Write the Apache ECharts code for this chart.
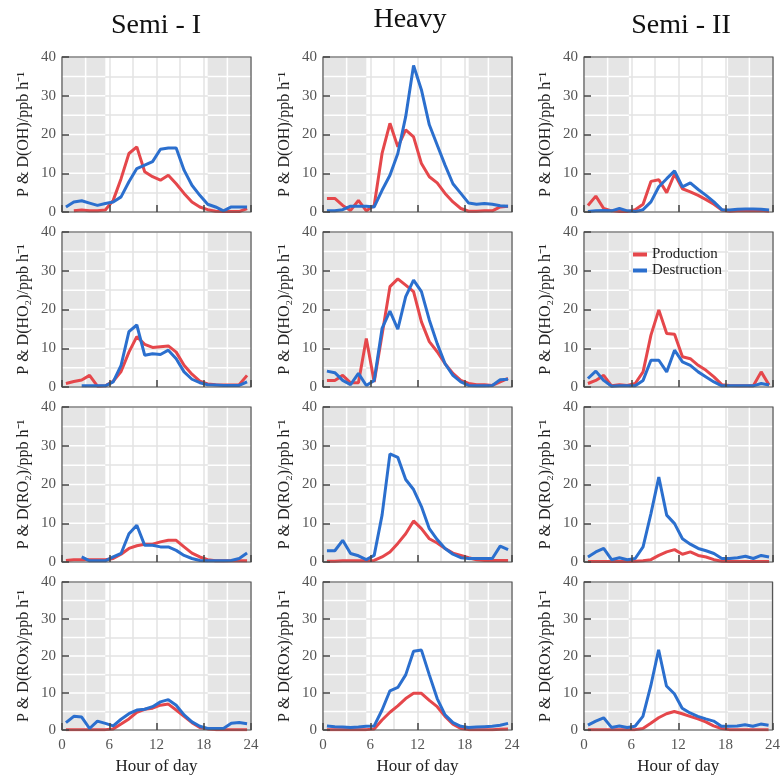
<!DOCTYPE html>
<html><head><meta charset="utf-8">
<script src="https://cdn.jsdelivr.net/npm/echarts@6/dist/echarts.min.js"></script>
<style>html,body{margin:0;padding:0;background:#fff}#c{width:783px;height:776px}</style>
</head><body><div id="c"></div>
<script>
// ---------- data ----------
const HOURS = [0.5,1.5,2.5,3.5,4.5,5.5,6.5,7.5,8.5,9.5,10.5,11.5,12.5,13.5,14.5,15.5,16.5,17.5,18.5,19.5,20.5,21.5,22.5,23.5];
const X_TICKS = [0, 6, 12, 18, 24];
const Y_TICKS = [0, 10, 20, 30, 40];
const PERIODS = ['Semi - I', 'Heavy', 'Semi - II'];
const Y_NAMES = ['P & D(OH)/ppb h⁻¹', 'P & D(HO₂)/ppb h⁻¹', 'P & D(RO₂)/ppb h⁻¹', 'P & D(ROx)/ppb h⁻¹'];
const NIGHT_SEMI1 = [[0, 5.5], [18.5, 24]];
const NIGHT_HEAVY = [[0, 5.5], [18.5, 24]];
const NIGHT_SEMI2 = [[0, 5.7], [18.3, 24]];

const P_OH_SEMI1 = [null,0.3,0.5,0.3,0.3,0.5,3.0,8.6,15.1,16.8,10.4,9.1,8.2,9.5,7.3,4.8,2.6,1.3,0.6,0.2,0.1,0.1,0.1,0.9];
const D_OH_SEMI1 = [1.3,2.6,2.9,2.3,1.7,2.2,2.6,3.9,7.8,11.2,12.1,13.0,16.2,16.5,16.5,10.8,6.9,4.3,2.0,1.3,0.3,1.3,1.3,1.3];
const P_OH_HEAVY = [3.5,3.5,1.7,0.4,3.0,0.3,1.7,15.1,22.9,16.8,21.2,19.4,12.5,9.1,7.5,4.8,2.6,0.9,0.2,0.2,0.3,0.3,1.3,1.5];
const D_OH_HEAVY = [0.3,0.3,0.6,1.5,1.5,1.5,1.3,5.6,9.5,15.1,24.6,37.8,31.5,22.5,17.3,12.1,7.3,4.8,2.3,2.0,2.2,2.0,1.6,1.5];
const P_OH_SEMI2 = [1.7,4.1,0.9,0.3,0.1,0.1,0.6,2.0,7.9,8.3,5.0,9.8,6.0,5.2,4.3,3.2,2.0,0.5,0.2,0.3,0.3,0.3,0.4,0.2];
const D_OH_SEMI2 = [0.1,0.3,0.4,0.3,0.9,0.3,0.1,0.6,2.6,6.5,8.6,10.6,6.5,7.5,5.8,4.3,2.6,0.6,0.5,0.7,0.8,0.8,0.7,0.5];

const P_HO2_SEMI1 = [0.9,1.4,1.8,3.0,0.2,0.3,1.5,4.0,9.0,13.0,11.0,10.2,10.4,10.6,9.0,5.6,3.3,1.5,0.8,0.6,0.5,0.5,0.6,3.0];
const D_HO2_SEMI1 = [null,null,0.3,0.3,0.3,0.3,1.3,5.6,14.3,16.0,8.2,8.6,8.4,9.5,7.3,3.9,2.0,1.1,0.6,0.5,0.4,0.4,0.4,1.3];
const P_HO2_HEAVY = [1.7,1.7,3.0,1.1,1.1,12.5,1.3,13.5,25.9,27.9,26.3,24.6,16.8,11.7,9.1,6.0,3.5,1.7,0.9,0.6,0.6,0.4,1.3,2.2];
const D_HO2_HEAVY = [4.1,3.7,1.7,0.6,3.5,0.4,1.7,15.1,19.6,14.9,23.3,27.6,24.6,17.3,11.2,6.0,3.0,1.3,0.4,0.3,0.3,0.4,1.9,2.0];
const P_HO2_SEMI2 = [0.9,1.7,3.0,0.3,0.6,0.4,0.9,3.9,13.4,19.9,13.8,13.6,7.8,7.3,5.6,4.3,2.6,0.6,0.4,0.3,0.3,0.3,3.9,0.5];
const D_HO2_SEMI2 = [2.2,4.1,1.7,0.2,0.3,0.3,0.3,1.7,6.9,6.9,3.9,9.5,6.5,5.6,3.9,2.6,1.3,0.3,0.3,0.3,0.3,0.3,0.9,0.5];

const P_RO2_SEMI1 = [0.4,0.6,0.6,0.6,0.6,0.6,0.9,2.0,3.5,4.2,4.6,4.6,5.2,5.6,5.6,3.9,2.3,1.3,0.6,0.3,0.3,0.3,0.3,0.3];
const D_RO2_SEMI1 = [null,null,1.3,0.3,0.3,0.3,1.3,2.2,7.3,9.5,4.3,4.3,3.9,3.9,3.0,1.7,0.9,0.4,0.3,0.3,0.3,0.4,0.9,2.3];
const P_RO2_HEAVY = [0.2,0.2,0.3,0.3,0.3,0.3,0.4,1.3,2.6,4.8,7.3,10.6,8.6,6.0,4.9,3.5,2.3,1.7,1.1,0.6,0.4,0.4,0.4,0.4];
const D_RO2_HEAVY = [2.9,2.9,5.6,2.2,1.6,0.6,1.7,12.1,27.9,27.0,21.3,18.7,14.3,8.6,5.8,3.5,2.0,1.1,0.9,0.9,0.9,0.9,4.1,3.2];
const P_RO2_SEMI2 = [0.1,0.1,0.1,0.1,0.1,0.1,0.2,0.3,0.6,1.7,2.6,3.2,2.0,2.6,1.7,1.3,0.6,0.2,0.1,0.1,0.1,0.1,0.1,0.1];
const D_RO2_SEMI2 = [1.3,2.6,3.5,0.6,1.1,0.6,0.9,3.9,12.5,21.9,12.1,9.9,6.0,4.6,3.5,2.9,2.2,0.9,0.9,1.1,1.5,0.9,1.7,1.3];

const P_ROX_SEMI1 = [0.1,0.1,0.1,0.1,0.1,0.1,0.3,1.6,3.0,4.8,5.6,5.9,6.7,7.0,5.4,3.7,2.0,0.7,0.3,0.1,0.1,0.1,0.1,0.1];
const D_ROX_SEMI1 = [2.0,3.7,3.5,0.4,2.4,1.8,1.1,2.9,4.4,5.4,5.6,6.3,7.6,8.2,6.7,4.1,2.2,1.0,0.4,0.4,0.4,1.8,2.0,1.7];
const P_ROX_HEAVY = [0.1,0.1,0.1,0.1,0.1,0.1,0.3,2.7,4.8,6.5,8.5,9.9,9.9,8.0,6.3,3.7,1.6,0.4,0.1,0.1,0.1,0.1,0.2,0.3];
const D_ROX_HEAVY = [1.1,0.9,0.8,0.7,0.8,1.0,1.1,5.4,10.6,11.5,14.9,21.3,21.6,14.9,8.5,4.1,2.0,1.0,0.7,0.8,0.9,1.0,1.3,1.8];
const P_ROX_SEMI2 = [0.1,0.1,0.1,0.1,0.1,0.1,0.1,0.4,1.8,3.3,4.4,5.0,4.4,3.7,3.0,2.2,1.1,0.4,0.1,0.1,0.1,0.1,0.1,0.1];
const D_ROX_SEMI2 = [1.3,2.4,3.3,0.7,1.1,0.7,1.0,3.7,11.9,21.7,11.9,9.8,5.9,4.6,3.7,3.0,2.4,1.0,1.0,1.1,1.4,1.0,1.6,1.3];

// ---------- layout / style ----------
const PROD = [[P_OH_SEMI1,P_OH_HEAVY,P_OH_SEMI2],[P_HO2_SEMI1,P_HO2_HEAVY,P_HO2_SEMI2],[P_RO2_SEMI1,P_RO2_HEAVY,P_RO2_SEMI2],[P_ROX_SEMI1,P_ROX_HEAVY,P_ROX_SEMI2]];
const DEST = [[D_OH_SEMI1,D_OH_HEAVY,D_OH_SEMI2],[D_HO2_SEMI1,D_HO2_HEAVY,D_HO2_SEMI2],[D_RO2_SEMI1,D_RO2_HEAVY,D_RO2_SEMI2],[D_ROX_SEMI1,D_ROX_HEAVY,D_ROX_SEMI2]];
const NIGHTS = [NIGHT_SEMI1, NIGHT_HEAVY, NIGHT_SEMI2];
const COL_LEFT = [62, 323, 584];
const ROW_TOP = [57, 232, 407, 582];
const PW = 189, PH = 155;
const TITLE_X = [156, 410, 681];
const TITLE_TOP = [12, 6, 12];
const FONT = "'Liberation Serif', 'Times New Roman', serif";
const RED = '#e5474b', BLUE = '#2b6fce';
const GRID_C = '#e3e3e3', NIGHT_C = '#e5e5e5';
const XMIN = X_TICKS[0], XMAX = X_TICKS[X_TICKS.length-1];
const YMIN = Y_TICKS[0], YMAX = Y_TICKS[Y_TICKS.length-1];
const XSTEP = X_TICKS[1]-X_TICKS[0], YSTEP = Y_TICKS[1]-Y_TICKS[0];

const grids = [], xAxes = [], yAxes = [], series = [], titles = [];
PERIODS.forEach((p, c) => titles.push({
  text: p, left: TITLE_X[c], top: TITLE_TOP[c], textAlign: 'center', padding: 0,
  textStyle: { fontFamily: FONT, fontSize: 28, fontWeight: 'normal', color: '#111' }
}));

function nightRender(params, api) {
  const x0 = api.value(0), x1 = api.value(1);
  const a = api.coord([x0, YMAX]), b = api.coord([x1, YMIN]);
  const ch = [{ type: 'rect', shape: { x: a[0], y: a[1], width: b[0]-a[0], height: b[1]-a[1] }, style: { fill: NIGHT_C } }];
  for (let g = XMIN + XSTEP/2; g < XMAX; g += XSTEP/2) {
    if (g > x0 + 0.05 && g < x1 - 0.05) {
      const p = api.coord([g, YMIN]), q = api.coord([g, YMAX]);
      ch.push({ type: 'line', shape: { x1: p[0], y1: p[1], x2: q[0], y2: q[1] }, style: { stroke: '#fff', lineWidth: 1.5 } });
    }
  }
  for (let g = YMIN + YSTEP/2; g < YMAX; g += YSTEP/2) {
    const p = api.coord([x0, g]), q = api.coord([x1, g]);
    ch.push({ type: 'line', shape: { x1: p[0], y1: p[1], x2: q[0], y2: q[1] }, style: { stroke: '#fff', lineWidth: 1.5 } });
  }
  return { type: 'group', children: ch };
}

let gi = 0;
for (let r = 0; r < 4; r++) {
  for (let c = 0; c < 3; c++) {
    grids.push({ left: COL_LEFT[c], top: ROW_TOP[r], width: PW, height: PH, show: true,
      backgroundColor: 'transparent', borderColor: '#555', borderWidth: 1.2, z: 6 });
    const lastRow = r === 3;
    xAxes.push({ type: 'value', gridIndex: gi, min: XMIN, max: XMAX, interval: XSTEP, position: 'bottom', z: 0,
      axisLine: { show: false, onZero: false }, axisTick: { show: false }, axisLabel: { show: false },
      splitLine: { show: true, lineStyle: { color: GRID_C, width: 1.5 } },
      minorTick: { show: false, splitNumber: 2 },
      minorSplitLine: { show: true, lineStyle: { color: GRID_C, width: 1.5 } } });
    xAxes.push({ type: 'value', gridIndex: gi, min: XMIN, max: XMAX, interval: XSTEP, position: 'bottom', z: 7,
      axisLine: { show: false, onZero: false },
      axisTick: { show: true, inside: true, length: 7, lineStyle: { color: '#444', width: 1.5 } },
      axisLabel: { show: lastRow, margin: 8, color: '#555', fontFamily: FONT, fontSize: 15 },
      splitLine: { show: false },
      name: lastRow ? 'Hour of day' : '', nameLocation: 'middle', nameGap: 28,
      nameTextStyle: { fontFamily: FONT, fontSize: 17, color: '#222' } });
    yAxes.push({ type: 'value', gridIndex: gi, min: YMIN, max: YMAX, interval: YSTEP, position: 'left', z: 0,
      axisLine: { show: false, onZero: false }, axisTick: { show: false }, axisLabel: { show: false },
      splitLine: { show: true, lineStyle: { color: GRID_C, width: 1.5 } },
      minorTick: { show: false, splitNumber: 2 },
      minorSplitLine: { show: true, lineStyle: { color: GRID_C, width: 1.5 } } });
    yAxes.push({ type: 'value', gridIndex: gi, min: YMIN, max: YMAX, interval: YSTEP, position: 'left', z: 7,
      axisLine: { show: false, onZero: false },
      axisTick: { show: true, inside: true, length: 7, lineStyle: { color: '#444', width: 1.5 } },
      axisLabel: { show: true, margin: 6, color: '#555', fontFamily: FONT, fontSize: 15 },
      splitLine: { show: false },
      name: Y_NAMES[r], nameLocation: 'middle', nameGap: 30, nameRotate: 90,
      nameTextStyle: { fontFamily: FONT, fontSize: 16, color: '#222' } });
    const xi = gi * 2, yi = gi * 2;
    series.push({ type: 'custom', xAxisIndex: xi, yAxisIndex: yi, z: 1, silent: true,
      data: NIGHTS[c].map(n => [n[0], n[1], 0]), encode: { x: [0, 1], y: 2 }, renderItem: nightRender });
    series.push({ type: 'line', name: 'Production', xAxisIndex: xi, yAxisIndex: yi, z: 3,
      data: HOURS.map((h, k) => [h, PROD[r][c][k]]), symbol: 'none', connectNulls: false,
      lineStyle: { color: RED, width: 3 }, itemStyle: { color: RED } });
    series.push({ type: 'line', name: 'Destruction', xAxisIndex: xi, yAxisIndex: yi, z: 4,
      data: HOURS.map((h, k) => [h, DEST[r][c][k]]), symbol: 'none', connectNulls: false,
      lineStyle: { color: BLUE, width: 3 }, itemStyle: { color: BLUE } });
    gi++;
  }
}

const chart = echarts.init(document.getElementById('c'), null, { renderer: 'canvas' });
chart.setOption({
  animation: false,
  backgroundColor: '#fff',
  title: titles,
  legend: { data: ['Production', 'Destruction'], orient: 'vertical', left: 633, top: 247,
    icon: 'rect', itemWidth: 14, itemHeight: 4, itemGap: 1, padding: 0,
    textStyle: { fontFamily: FONT, fontSize: 15, color: '#222' } },
  grid: grids, xAxis: xAxes, yAxis: yAxes, series: series
});
</script></body></html>
